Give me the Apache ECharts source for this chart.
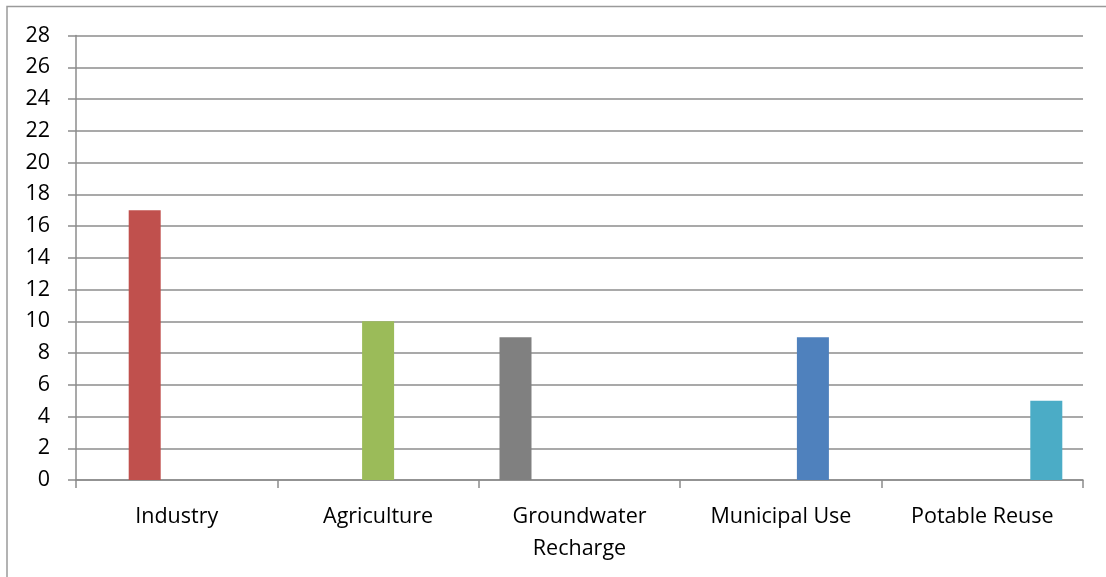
<!DOCTYPE html>
<html>
<head>
<meta charset="utf-8">
<script src="https://cdn.jsdelivr.net/npm/echarts@6/dist/echarts.min.js"></script>
<style>
  html, body { margin: 0; padding: 0; background: #fff; }
  #chart { width: 1106px; height: 577px; }
</style>
</head>
<body>
<div id="chart"></div>
<script>
  // categories and values
  var categories = ['Industry', 'Agriculture', 'Groundwater\nRecharge', 'Municipal Use', 'Potable Reuse']
  // each series carries one category only (excel-style clustered bars)
  var groundwater = ['-', '-', 9, '-', '-']
  var industry = [17, '-', '-', '-', '-']
  var agriculture = ['-', 10, '-', '-', '-']
  var municipal = ['-', '-', '-', 9, '-']
  var potable = ['-', '-', '-', '-', 5]
  var yTicks = { min: 0, max: 28, interval: 2 }

  var gridColor = '#8c8c8c'
  var font = 'Open Sans'

  function barSeries (name, data, color) {
    return {
      name: name,
      type: 'bar',
      barWidth: 32,
      barGap: '0%',
      data: data,
      itemStyle: { color: color },
      animation: false
    }
  }

  var myChart = echarts.init(document.getElementById('chart'))
  var option = {
    animation: false,
    grid: { left: 76, right: 23, top: 35.5, bottom: 97, containLabel: false },
    graphic: [{
      type: 'polyline',
      shape: { points: [[7, 577], [7, 6.5], [1106, 6.5]] },
      style: { stroke: '#9a9a9a', lineWidth: 1.5, fill: null }
    }],
    xAxis: {
      type: 'category',
      data: categories,
      axisLine: { lineStyle: { color: gridColor, width: 1.5 } },
      axisTick: { show: true, length: 8, lineStyle: { color: gridColor, width: 1.5 } },
      axisLabel: { color: '#000', fontSize: 21.5, fontFamily: font, margin: 21, lineHeight: 32, interval: 0 }
    },
    yAxis: {
      type: 'value',
      min: yTicks.min,
      max: yTicks.max,
      interval: yTicks.interval,
      axisLine: { show: true, lineStyle: { color: gridColor, width: 1.5 } },
      axisTick: { show: true, length: 8, lineStyle: { color: gridColor, width: 1.5 } },
      splitLine: { lineStyle: { color: gridColor, width: 1.5 } },
      axisLabel: { color: '#000', fontSize: 21.5, fontFamily: font, margin: 26 }
    },
    series: [
      barSeries('Groundwater Recharge', groundwater, '#808080'),
      barSeries('Industry', industry, '#C0504D'),
      barSeries('Agriculture', agriculture, '#9BBB59'),
      barSeries('Municipal Use', municipal, '#4F81BD'),
      barSeries('Potable Reuse', potable, '#4BACC6')
    ]
  }
  myChart.setOption(option, true)
</script>
</body>
</html>
